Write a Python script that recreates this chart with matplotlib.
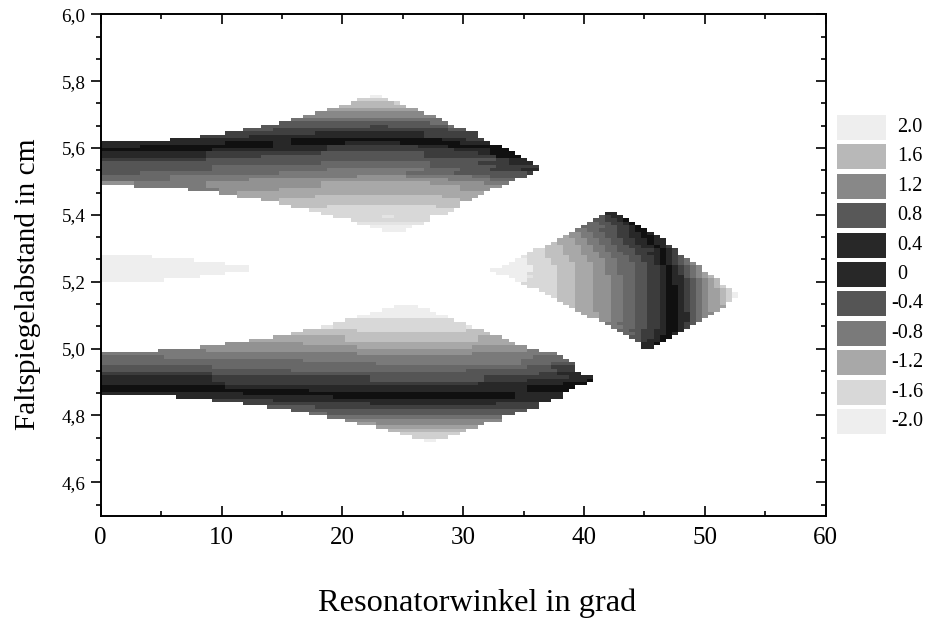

import numpy as np
import matplotlib
matplotlib.use("Agg")
import matplotlib.pyplot as plt
from matplotlib.colors import ListedColormap, BoundaryNorm
from matplotlib.ticker import MultipleLocator, AutoMinorLocator

plt.rcParams["font.family"] = ["Liberation Serif", "DejaVu Serif"]

# level -> grey, one step per 0.2
levels = [-2.0, -1.8, -1.6, -1.4, -1.2, -1.0, -0.8, -0.6, -0.4, -0.2, 0.0,
          0.2, 0.4, 0.6, 0.8, 1.0, 1.2, 1.4, 1.6, 1.8, 2.0]
greys = ["#eeeeee", "#e4e4e4", "#d8d8d8", "#c0c0c0", "#a8a8a8", "#929292", "#7a7a7a",
         "#686868", "#555555", "#3c3c3c", "#282828", "#101010", "#282828", "#404040",
         "#585858", "#707070", "#888888", "#a0a0a0", "#b8b8b8", "#d0d0d0", "#eeeeee"]

legend_values = ["2.0", "1.6", "1.2", "0.8", "0.4", "0", "-0.4", "-0.8", "-1.2", "-1.6", "-2.0"]
legend_greys = ["#eeeeee", "#b8b8b8", "#888888", "#585858", "#282828", "#282828",
                "#555555", "#7a7a7a", "#a8a8a8", "#d8d8d8", "#eeeeee"]

x_tick_labels = ["0", "10", "20", "30", "40", "50", "60"]
y_tick_labels = ["4,6", "4,8", "5,0", "5,2", "5,4", "5,6", "5,8", "6,0"]

# each row: upper y edge, first x, then (x where the run ends, level)
upper_lobe = [
    (5.76, 22.25, (23.25, 2.0)),
    (5.75, 21.25, (23.75, 1.8)),
    (5.74, 20.75, (24.25, 1.6), (24.75, 1.8)),
    (5.73, 19.75, (25.25, 1.6)),
    (5.72, 18.75, (26.25, 1.4)),
    (5.71, 17.75, (26.75, 1.2)),
    (5.70, 16.75, (27.75, 1.2)),
    (5.69, 15.75, (28.25, 1.0)),
    (5.68, 14.75, (27.25, 0.8), (28.75, 1.0)),
    (5.67, 13.25, (22.25, 0.8), (23.75, 0.6), (28.75, 0.8), (29.25, 1.0)),
    (5.66, 11.75, (14.25, 0.8), (28.75, 0.6), (30.25, 0.8)),
    (5.65, 10.25, (17.75, 0.6), (26.75, 0.4), (31.25, 0.6)),
    (5.64, 8.25, (12.25, 0.6), (26.75, 0.4), (31.25, 0.6)),
    (5.63, 5.75, (15.75, 0.4), (28.25, 0.2), (30.25, 0.4), (31.75, 0.6)),
    (5.62, 0.0, (10.25, 0.4), (14.25, 0.2), (15.75, 0.4), (20.25, 0.2), (24.75, 0.4), (29.75, 0.2), (32.25, 0.4)),
    (5.61, 0.0, (3.25, 0.4), (14.25, 0.2), (18.75, 0.0), (26.25, -0.2), (28.75, 0.0), (33.25, 0.2)),
    (5.60, 0.0, (9.25, 0.2), (18.75, 0.0), (29.25, -0.2), (32.25, 0.0), (33.75, 0.2)),
    (5.59, 0.0, (8.75, 0.0), (18.25, -0.2), (26.75, -0.4), (31.25, -0.2), (32.25, 0.0), (34.25, 0.2)),
    (5.58, 0.0, (8.75, 0.0), (13.25, -0.2), (26.75, -0.4), (32.75, -0.2), (34.75, 0.2)),
    (5.57, 0.0, (8.75, -0.2), (27.25, -0.4), (32.75, -0.4), (33.75, -0.2), (35.25, 0.0)),
    (5.56, 0.0, (8.75, -0.4), (18.25, -0.4), (27.25, -0.6), (31.25, -0.4), (33.75, -0.2), (35.75, 0.0)),
    (5.55, 0.0, (9.25, -0.4), (27.25, -0.6), (32.75, -0.4), (36.25, -0.2)),
    (5.54, 0.0, (9.25, -0.4), (18.75, -0.6), (26.75, -0.8), (29.75, -0.6), (32.25, -0.4), (34.75, -0.2), (36.25, 0.0)),
    (5.53, 0.0, (3.25, -0.4), (14.75, -0.6), (25.25, -0.8), (29.25, -0.6), (35.25, -0.4), (35.75, -0.2)),
    (5.52, 0.0, (5.75, -0.6), (16.25, -0.8), (21.25, -0.8), (25.25, -1.0), (30.75, -0.8), (32.25, -0.6), (35.25, -0.4)),
    (5.51, 0.0, (5.75, -0.6), (12.25, -0.8), (28.75, -1.0), (32.25, -0.8), (34.25, -0.6)),
    (5.50, 0.0, (2.75, -1.0), (8.75, -0.8), (18.25, -1.0), (27.25, -1.2), (31.75, -1.0), (33.75, -0.8)),
    (5.49, 2.75, (8.75, -0.8), (18.25, -1.0), (29.75, -1.2), (33.0, -1.0)),
    (5.48, 7.25, (9.75, -0.8), (14.75, -1.0), (29.75, -1.2), (32.25, -1.0)),
    (5.47, 9.75, (11.25, -1.0), (31.75, -1.2)),
    (5.46, 11.25, (17.75, -1.2), (28.25, -1.4), (31.25, -1.2)),
    (5.45, 13.25, (14.75, -1.2), (29.75, -1.4), (30.75, -1.2)),
    (5.44, 14.75, (29.75, -1.4)),
    (5.43, 15.75, (18.75, -1.4), (27.75, -1.6), (29.75, -1.4)),
    (5.42, 17.25, (29.25, -1.6)),
    (5.41, 18.25, (28.75, -1.6)),
    (5.40, 19.25, (23.25, -1.6), (24.25, -1.8), (27.25, -1.6)),
    (5.39, 20.75, (27.25, -1.6)),
    (5.38, 21.25, (26.75, -1.8)),
    (5.37, 22.25, (25.75, -2.0)),
    (5.36, 23.25, (25.25, -2.0)),
]

left_stub = [
    (5.28, 0.0, (4.25, 2.0)),
    (5.27, 0.0, (7.75, 2.0)),
    (5.26, 0.0, (10.25, 2.0)),
    (5.25, 0.0, (12.25, 2.0)),
    (5.24, 0.0, (12.25, 2.0)),
    (5.23, 0.0, (10.25, 2.0)),
    (5.22, 0.0, (8.25, 2.0)),
    (5.21, 0.0, (5.25, 2.0)),
]

lower_lobe = [
    (5.13, 24.25, (26.25, -2.0)),
    (5.12, 23.25, (27.25, -2.0)),
    (5.11, 22.25, (27.75, -2.0)),
    (5.10, 21.25, (28.75, -2.0)),
    (5.09, 20.25, (29.25, -1.6)),
    (5.08, 19.25, (30.25, -1.6)),
    (5.07, 18.25, (19.25, -1.8), (30.25, -1.6), (30.75, -1.8)),
    (5.06, 16.75, (21.25, -1.4), (30.25, -1.6), (31.75, -1.4)),
    (5.05, 15.75, (32.25, -1.4)),
    (5.04, 14.25, (20.25, -1.2), (31.25, -1.4), (33.25, -1.2)),
    (5.03, 12.25, (20.25, -1.2), (31.25, -1.4), (33.75, -1.2)),
    (5.02, 10.25, (16.75, -1.0), (34.25, -1.2)),
    (5.01, 8.25, (21.25, -1.0), (30.75, -1.2), (35.25, -1.0)),
    (5.00, 4.75, (8.75, -0.8), (35.0, -1.0), (36.0, -0.8)),
    (4.99, 0.0, (21.25, -0.8), (30.75, -1.0), (37.5, -0.8)),
    (4.98, 0.0, (5.25, -0.6), (35.75, -0.8), (38.0, -0.6)),
    (4.97, 0.0, (16.75, -0.6), (34.5, -0.8), (38.5, -0.6)),
    (4.96, 0.0, (22.75, -0.6), (34.5, -0.8), (37.0, -0.6), (39.0, -0.4)),
    (4.95, 0.0, (9.25, -0.4), (35.0, -0.6), (37.0, -0.4), (39.25, -0.2)),
    (4.94, 0.0, (15.75, -0.4), (30.25, -0.6), (37.5, -0.4), (39.25, -0.2)),
    (4.93, 0.0, (9.25, -0.2), (36.25, -0.4), (37.5, -0.2), (39.75, 0.0)),
    (4.92, 0.0, (9.25, 0.0), (22.25, -0.2), (31.75, -0.4), (38.75, -0.2), (40.75, 0.0)),
    (4.91, 0.0, (9.25, 0.0), (22.25, -0.2), (31.75, -0.4), (35.25, -0.2), (40.25, 0.0), (40.75, 0.2)),
    (4.90, 0.0, (10.25, 0.0), (31.25, -0.2), (38.0, 0.0), (40.25, 0.2)),
    (4.89, 0.0, (10.25, 0.2), (35.25, 0.0), (39.25, 0.2)),
    (4.88, 0.0, (17.25, 0.2), (35.25, 0.0), (38.75, 0.2)),
    (4.87, 0.0, (11.75, 0.4), (34.25, 0.2), (38.25, 0.4)),
    (4.86, 6.25, (19.25, 0.4), (34.25, 0.2), (38.0, 0.4)),
    (4.85, 9.25, (14.25, 0.6), (37.25, 0.4)),
    (4.84, 11.75, (22.25, 0.6), (32.75, 0.4), (36.25, 0.6)),
    (4.83, 13.75, (17.75, 0.8), (36.25, 0.6)),
    (4.82, 15.75, (35.0, 0.8)),
    (4.81, 17.25, (18.75, 1.0), (34.25, 0.8)),
    (4.80, 18.75, (33.25, 1.0)),
    (4.79, 20.25, (33.0, 1.2)),
    (4.78, 21.25, (22.75, 1.4), (31.75, 1.2)),
    (4.77, 22.75, (31.25, 1.4)),
    (4.76, 23.75, (30.25, 1.6)),
    (4.75, 24.75, (29.75, 1.8)),
    (4.74, 25.75, (28.75, 1.8)),
    (4.73, 26.75, (27.75, 2.0)),
]

side_lobe = [
    (5.41, 41.75, (42.75, 0.0)),
    (5.40, 41.25, (41.75, -0.4), (42.25, -0.2), (43.25, 0.0)),
    (5.39, 40.75, (41.75, -0.4), (42.75, -0.2), (43.25, 0.0), (43.75, 0.2)),
    (5.38, 40.25, (41.25, -0.6), (42.25, -0.4), (43.25, -0.2), (43.75, 0.0), (44.25, 0.2)),
    (5.37, 39.75, (41.75, -0.6), (42.75, -0.4), (43.75, -0.2), (44.25, 0.0), (44.75, 0.2)),
    (5.36, 39.25, (40.25, -0.8), (41.25, -0.6), (42.75, -0.4), (43.75, -0.2), (44.25, 0.0), (45.25, 0.2)),
    (5.35, 38.75, (39.75, -1.0), (40.75, -0.8), (41.75, -0.6), (42.75, -0.4), (43.75, -0.2), (44.75, 0.0), (45.25, 0.2), (45.75, 0.4)),
    (5.34, 38.25, (38.75, -1.2), (39.75, -1.0), (40.75, -0.8), (41.75, -0.6), (42.75, -0.4), (43.75, -0.2), (44.75, 0.0), (45.75, 0.2), (46.25, 0.4)),
    (5.33, 37.75, (39.25, -1.2), (40.25, -1.0), (41.25, -0.8), (42.25, -0.6), (43.25, -0.4), (44.25, -0.2), (45.25, 0.0), (45.75, 0.2), (46.75, 0.4)),
    (5.32, 37.25, (37.75, -1.4), (39.25, -1.2), (40.25, -1.0), (41.25, -0.8), (42.25, -0.6), (43.25, -0.4), (44.25, -0.2), (45.25, 0.0), (45.75, 0.2), (46.75, 0.4)),
    (5.31, 36.75, (38.25, -1.4), (39.75, -1.2), (40.75, -1.0), (41.75, -0.8), (42.75, -0.6), (43.75, -0.4), (44.75, -0.2), (45.75, 0.0), (46.25, 0.2), (46.75, 0.4), (47.25, 0.6)),
    (5.30, 35.75, (36.75, -1.6), (38.25, -1.4), (39.75, -1.2), (40.75, -1.0), (41.75, -0.8), (42.75, -0.6), (44.25, -0.4), (45.75, -0.2), (46.25, 0.0), (46.75, 0.2), (47.25, 0.4), (47.75, 0.6)),
    (5.29, 35.25, (36.75, -1.6), (38.25, -1.4), (39.75, -1.2), (41.25, -1.0), (42.25, -0.8), (43.25, -0.6), (44.25, -0.4), (45.25, -0.2), (46.25, 0.0), (46.75, 0.2), (47.25, 0.4), (47.75, 0.6)),
    (5.28, 34.75, (35.25, -1.8), (36.75, -1.6), (38.75, -1.4), (40.25, -1.2), (41.25, -1.0), (42.25, -0.8), (43.75, -0.6), (44.75, -0.4), (45.75, -0.2), (46.25, 0.0), (46.75, 0.2), (47.25, 0.4), (47.75, 0.6), (48.25, 0.8)),
    (5.27, 34.25, (35.25, -2.0), (37.25, -1.6), (38.75, -1.4), (40.25, -1.2), (41.75, -1.0), (42.75, -0.8), (43.75, -0.6), (44.75, -0.4), (45.75, -0.2), (46.25, 0.0), (46.75, 0.2), (47.25, 0.4), (47.75, 0.6), (48.25, 0.8), (48.75, 1.0)),
    (5.26, 33.75, (35.25, -2.0), (37.25, -1.6), (39.25, -1.4), (40.75, -1.2), (41.75, -1.0), (42.75, -0.8), (44.25, -0.6), (45.25, -0.4), (45.75, -0.2), (46.25, 0.0), (46.75, 0.2), (47.25, 0.4), (47.75, 0.6), (48.25, 0.8), (48.75, 1.0), (49.25, 1.2)),
    (5.25, 33.25, (35.75, -2.0), (37.75, -1.6), (39.25, -1.4), (40.75, -1.2), (41.75, -1.0), (42.75, -0.8), (44.25, -0.6), (45.25, -0.4), (46.25, -0.2), (46.75, 0.0), (47.25, 0.2), (47.75, 0.4), (48.25, 0.6), (48.75, 0.8), (49.25, 1.0), (49.75, 1.2)),
    (5.24, 32.25, (35.75, -2.0), (37.75, -1.6), (39.25, -1.4), (40.75, -1.2), (41.75, -1.0), (42.75, -0.8), (44.25, -0.6), (45.25, -0.4), (46.25, -0.2), (46.75, 0.0), (47.25, 0.2), (47.75, 0.4), (48.25, 0.6), (48.75, 0.8), (49.25, 1.0), (49.75, 1.2)),
    (5.23, 32.75, (35.25, -2.0), (37.75, -1.6), (39.25, -1.4), (40.75, -1.2), (41.75, -1.0), (42.75, -0.8), (44.25, -0.6), (45.25, -0.4), (46.25, -0.2), (46.75, 0.0), (47.25, 0.2), (47.75, 0.4), (48.25, 0.6), (48.75, 0.8), (49.25, 1.0), (49.75, 1.2), (50.25, 1.4)),
    (5.22, 33.75, (35.25, -2.0), (35.75, -1.8), (37.75, -1.6), (39.25, -1.4), (40.75, -1.2), (42.25, -1.0), (43.25, -0.8), (44.25, -0.6), (45.25, -0.4), (46.25, -0.2), (46.75, 0.0), (47.25, 0.2), (48.25, 0.4), (48.75, 0.8), (49.25, 1.0), (49.75, 1.2), (50.25, 1.4), (50.75, 1.6)),
    (5.21, 34.25, (35.25, -2.0), (37.75, -1.6), (39.25, -1.4), (40.75, -1.2), (42.25, -1.0), (43.25, -0.8), (44.25, -0.6), (45.25, -0.4), (46.25, -0.2), (46.75, 0.0), (47.25, 0.2), (48.25, 0.4), (48.75, 0.6), (49.25, 0.8), (49.75, 1.0), (50.25, 1.2), (50.75, 1.4), (51.25, 1.6)),
    (5.20, 34.75, (37.75, -1.6), (39.25, -1.4), (40.75, -1.2), (42.25, -1.0), (43.25, -0.8), (44.25, -0.6), (45.25, -0.4), (46.25, -0.2), (46.75, 0.0), (47.25, 0.2), (48.25, 0.4), (48.75, 0.6), (49.25, 0.8), (49.75, 1.0), (50.25, 1.2), (50.75, 1.4), (51.25, 1.6)),
    (5.19, 35.25, (37.75, -1.6), (39.25, -1.4), (40.75, -1.2), (42.25, -1.0), (43.25, -0.8), (44.25, -0.6), (45.25, -0.4), (46.25, -0.2), (46.75, 0.0), (47.75, 0.2), (48.25, 0.4), (48.75, 0.6), (49.25, 0.8), (49.75, 1.0), (50.25, 1.2), (50.75, 1.4), (51.25, 1.6), (51.75, 1.8)),
    (5.18, 36.25, (37.75, -1.6), (39.25, -1.4), (40.75, -1.2), (42.25, -1.0), (43.25, -0.8), (44.25, -0.6), (45.25, -0.4), (46.25, -0.2), (46.75, 0.0), (47.75, 0.2), (48.25, 0.4), (48.75, 0.6), (49.25, 0.8), (49.75, 1.0), (50.25, 1.2), (51.25, 1.4), (51.75, 1.6), (52.25, 1.8)),
    (5.17, 36.75, (37.75, -1.6), (39.25, -1.4), (40.75, -1.2), (42.25, -1.0), (43.25, -0.8), (44.25, -0.6), (45.25, -0.4), (46.25, -0.2), (46.75, 0.0), (47.75, 0.2), (48.25, 0.4), (48.75, 0.6), (49.25, 0.8), (49.75, 1.0), (50.25, 1.2), (51.25, 1.4), (51.75, 1.6), (52.25, 1.8), (52.75, 2.0)),
    (5.16, 37.25, (37.75, -1.6), (39.25, -1.4), (40.75, -1.2), (42.25, -1.0), (43.25, -0.8), (44.25, -0.6), (45.25, -0.4), (46.25, -0.2), (46.75, 0.0), (47.75, 0.2), (48.25, 0.4), (48.75, 0.6), (49.25, 0.8), (49.75, 1.0), (50.25, 1.2), (51.25, 1.4), (51.75, 1.6), (52.25, 1.8), (52.75, 2.0)),
    (5.15, 37.75, (39.25, -1.4), (40.75, -1.2), (42.25, -1.0), (43.25, -0.8), (44.25, -0.6), (45.25, -0.4), (46.25, -0.2), (46.75, 0.0), (47.75, 0.2), (48.25, 0.4), (48.75, 0.6), (49.25, 0.8), (49.75, 1.0), (50.25, 1.2), (51.25, 1.4), (51.75, 1.6), (52.25, 1.8)),
    (5.14, 38.25, (39.25, -1.4), (40.75, -1.2), (42.25, -1.0), (43.25, -0.8), (44.25, -0.6), (45.25, -0.4), (46.25, -0.2), (46.75, 0.0), (47.75, 0.2), (48.25, 0.4), (48.75, 0.6), (49.25, 0.8), (49.75, 1.0), (50.25, 1.2), (51.25, 1.4), (51.75, 1.6)),
    (5.13, 38.75, (39.25, -1.4), (40.75, -1.2), (42.25, -1.0), (43.25, -0.8), (44.25, -0.6), (45.25, -0.4), (46.25, -0.2), (46.75, 0.0), (47.75, 0.2), (48.25, 0.4), (48.75, 0.6), (49.25, 0.8), (49.75, 1.0), (50.25, 1.2), (51.75, 1.4)),
    (5.12, 39.25, (40.75, -1.2), (42.25, -1.0), (43.25, -0.8), (44.25, -0.6), (45.25, -0.4), (46.25, -0.2), (46.75, 0.0), (47.75, 0.2), (48.25, 0.4), (48.75, 0.6), (49.25, 0.8), (49.75, 1.0), (50.25, 1.2), (51.25, 1.4)),
    (5.11, 39.75, (41.25, -1.2), (42.25, -1.0), (43.25, -0.8), (44.25, -0.6), (45.25, -0.4), (46.25, -0.2), (46.75, 0.0), (47.75, 0.2), (48.75, 0.4), (49.25, 0.8), (49.75, 1.0), (50.75, 1.2)),
    (5.10, 40.25, (41.25, -1.2), (42.25, -1.0), (43.25, -0.8), (44.25, -0.6), (45.25, -0.4), (46.25, -0.2), (46.75, 0.0), (47.75, 0.2), (48.75, 0.4), (49.25, 0.8), (49.75, 1.0), (50.25, 1.2)),
    (5.09, 41.25, (42.25, -1.0), (43.25, -0.8), (44.25, -0.6), (45.25, -0.4), (46.25, -0.2), (46.75, 0.0), (47.75, 0.2), (48.75, 0.4), (49.25, 0.8), (49.75, 1.0)),
    (5.08, 41.75, (42.75, -0.8), (44.25, -0.6), (45.25, -0.4), (46.25, -0.2), (46.75, 0.0), (47.75, 0.2), (48.25, 0.4), (48.75, 0.6), (49.25, 0.8)),
    (5.07, 42.25, (43.25, -0.8), (44.25, -0.6), (45.25, -0.4), (46.25, -0.2), (46.75, 0.0), (47.75, 0.2), (48.25, 0.4), (48.75, 0.6)),
    (5.06, 42.75, (43.75, -0.6), (44.75, -0.4), (45.75, -0.2), (46.75, 0.0), (47.75, 0.2), (48.25, 0.4)),
    (5.05, 43.25, (44.25, -0.6), (44.75, -0.4), (45.75, -0.2), (46.75, 0.0), (47.25, 0.2), (47.75, 0.4)),
    (5.04, 43.75, (44.75, -0.4), (45.75, -0.2), (46.25, 0.0), (47.25, 0.2)),
    (5.03, 44.25, (44.75, -0.4), (45.25, -0.2), (46.25, 0.0), (46.75, 0.2)),
    (5.02, 44.75, (45.75, 0.0), (46.25, 0.2)),
    (5.01, 44.75, (45.75, 0.0)),
]


def paint(z, xe, ye, rows):
    for row in rows:
        top, x0 = row[0], row[1]
        r = int(round((top - ye[0]) / 0.01)) - 1
        for x1, val in row[2:]:
            i0 = np.searchsorted(xe, x0 - 1e-6)
            i1 = np.searchsorted(xe, x1 - 1e-6)
            z[r, i0:i1] = val
            x0 = x1


xe = np.concatenate([[0.0], np.arange(0.25, 60.0, 0.5), [60.0]])
ye = np.round(np.arange(4.5, 6.005, 0.01), 2)
z = np.full((len(ye) - 1, len(xe) - 1), np.nan)
for rows in (upper_lobe, left_stub, lower_lobe, side_lobe):
    paint(z, xe, ye, rows)

cmap = ListedColormap(greys)
norm = BoundaryNorm(np.arange(-2.1, 2.11, 0.2), cmap.N)

W, H = 927, 619
fig = plt.figure(figsize=(W / 100, H / 100), dpi=100)
ax = fig.add_axes([100.7 / W, 1 - 515.7 / H, 725 / W, 501.4 / H])
ax.pcolormesh(xe, ye, np.ma.masked_invalid(z), cmap=cmap, norm=norm,
              antialiased=False, linewidth=0, rasterized=True)
ax.set_xlim(0, 60)
ax.set_ylim(4.5, 6.0)

ax.set_xticks([float(t) for t in x_tick_labels], x_tick_labels)
ax.set_yticks([float(t.replace(",", ".")) for t in y_tick_labels], y_tick_labels, fontsize=13.8)
ax.xaxis.set_minor_locator(AutoMinorLocator(2))
ax.yaxis.set_minor_locator(MultipleLocator(0.2 / 3))
ax.set_ylim(4.5, 6.0)

for s in ax.spines.values():
    s.set_linewidth(1.2)
ax.tick_params(axis="x", which="major", direction="in", top=True, length=7, width=1.2,
               labelsize=18, pad=8)
ax.tick_params(axis="x", which="minor", direction="in", top=True, length=3.5, width=1.2)
ax.tick_params(axis="y", which="major", direction="out", length=7, width=1.2, pad=4)
ax.tick_params(axis="y", which="minor", direction="out", length=3.5, width=1.2)
# right side points inwards, so it is done with a twin sharing the scale
rax = ax.twinx()
rax.set_ylim(4.5, 6.0)
rax.yaxis.set_major_locator(MultipleLocator(0.2))
rax.yaxis.set_minor_locator(MultipleLocator(0.2 / 3))
rax.tick_params(axis="y", which="major", direction="in", length=7, width=1.2, labelright=False)
rax.tick_params(axis="y", which="minor", direction="in", length=3.5, width=1.2)
for s in rax.spines.values():
    s.set_linewidth(1.2)

ax.set_xlabel("Resonatorwinkel in grad", fontsize=23.3, va="top")
ax.xaxis.set_label_coords(0.519, -0.146)
ax.set_ylabel("Faltspiegelabstand in cm", fontsize=21.2, va="bottom")
ax.yaxis.set_label_coords(-0.0818, 0.462)

# legend column
lax = fig.add_axes([837 / W, 1 - 436.2 / H, 90 / W, 323.4 / H])
lax.set_xlim(0, 90)
lax.set_ylim(len(legend_values) - 0.5, -0.5)
lax.axis("off")
lax.barh(range(len(legend_values)), 49, height=0.85, color=legend_greys)
for i, lab in enumerate(legend_values):
    lax.text(54 if lab.startswith("-") else 60, i, lab, ha="left", va="center", fontsize=14.5)

fig.savefig("out.png", dpi=100)
